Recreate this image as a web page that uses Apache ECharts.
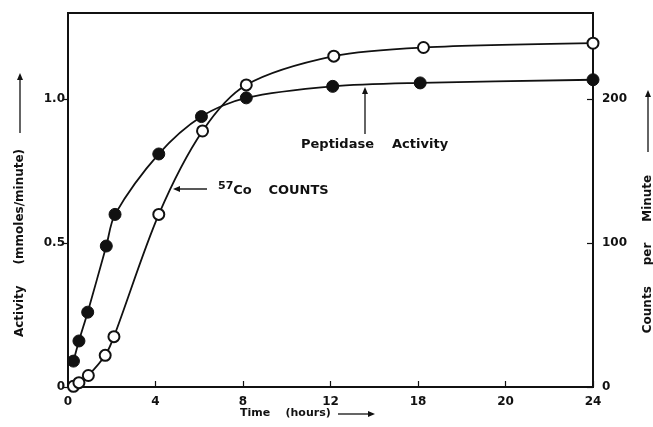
<!DOCTYPE html>
<html>
<head>
<meta charset="utf-8">
<script src="https://cdn.jsdelivr.net/npm/echarts@6/dist/echarts.min.js"></script>
<style>
  html, body { margin: 0; padding: 0; background: #fff; }
  #chart { width: 653px; height: 427px; }
</style>
</head>
<body>
<div id="chart"></div>
<script>
// time points (hours)
const activityTime = [0.25, 0.5, 0.9, 1.75, 2.15, 4.15, 6.1, 8.15, 12.1, 16.1, 24];
const activityValues = [0.09, 0.16, 0.26, 0.49, 0.60, 0.81, 0.94, 1.005, 1.045, 1.057, 1.068];

const countsTime = [0.25, 0.5, 0.93, 1.7, 2.1, 4.15, 6.15, 8.15, 12.15, 16.25, 24];
const countsValues = [0.5, 3, 8, 22, 35, 120, 178, 210, 230, 236, 239];

// tick labels as printed (the 16-hour tick is printed "18")
const xTickLabels = ['0', '4', '8', '12', '18', '20', '24'];
const leftTicks = [0, 0.5, 1];
const leftTickLabels = ['0', '0.5', '1.0'];
const rightTicks = [0, 100, 200];
const rightTickLabels = ['0', '100', '200'];

const FONT = 'DejaVu Sans';
const INK = '#111';

const chart = echarts.init(document.getElementById('chart'), null, { renderer: 'canvas' });

const arrowHead = (x, y, dir) => {
  // small filled triangle, dir: 'left' | 'up' | 'right'
  let pts;
  if (dir === 'left') pts = [[x, y], [x + 7, y - 3], [x + 7, y + 3]];
  else if (dir === 'up') pts = [[x, y], [x - 3, y + 7], [x + 3, y + 7]];
  else pts = [[x, y], [x - 7, y - 3], [x - 7, y + 3]];
  return { type: 'polygon', shape: { points: pts }, style: { fill: INK } };
};

const labelStyle = { color: INK, fontFamily: FONT, fontSize: 12, fontWeight: 'bold' };

const option = {
  backgroundColor: '#fff',
  animation: false,
  grid: {
    left: 68, right: 60, top: 13, bottom: 40,
    show: true, borderColor: INK, borderWidth: 2, backgroundColor: 'transparent'
  },
  xAxis: {
    type: 'value', min: 0, max: 24, interval: 4,
    axisLine: { lineStyle: { color: INK, width: 2 } },
    axisTick: { inside: true, length: 6, lineStyle: { color: INK, width: 1.2 } },
    splitLine: { show: false },
    axisLabel: Object.assign({ margin: 9, formatter: v => xTickLabels[Math.round(v / 4)] }, labelStyle)
  },
  yAxis: [
    {
      type: 'value', min: 0, max: 1.3,
      axisLine: { show: true, lineStyle: { color: INK, width: 2 } },
      axisTick: { show: true, length: 5, customValues: leftTicks, lineStyle: { color: INK, width: 1.2 } },
      splitLine: { show: false },
      axisLabel: Object.assign({
        margin: 3, customValues: leftTicks,
        formatter: v => leftTickLabels[leftTicks.indexOf(v)]
      }, labelStyle)
    },
    {
      type: 'value', min: 0, max: 260, position: 'right',
      axisLine: { show: true, lineStyle: { color: INK, width: 2 } },
      axisTick: { show: true, inside: true, length: 6, customValues: rightTicks, lineStyle: { color: INK, width: 1.2 } },
      splitLine: { show: false },
      axisLabel: Object.assign({
        margin: 9, customValues: rightTicks,
        formatter: v => rightTickLabels[rightTicks.indexOf(v)]
      }, labelStyle)
    }
  ],
  series: [
    {
      name: 'Peptidase Activity', type: 'line', yAxisIndex: 0,
      data: activityTime.map((t, i) => [t, activityValues[i]]),
      smooth: 0.3, symbol: 'circle', symbolSize: 12,
      lineStyle: { color: INK, width: 1.8 },
      itemStyle: { color: INK, borderColor: INK, borderWidth: 1 },
      z: 3
    },
    {
      name: '57Co counts', type: 'line', yAxisIndex: 1,
      data: countsTime.map((t, i) => [t, countsValues[i]]),
      smooth: 0.3, symbol: 'circle', symbolSize: 11,
      lineStyle: { color: INK, width: 1.8 },
      itemStyle: { color: '#fff', borderColor: INK, borderWidth: 2 },
      z: 4
    }
  ],
  graphic: [
    // left axis title
    {
      type: 'text', x: 20, y: 243, rotation: Math.PI / 2,
      style: {
        text: 'Activity     (mmoles/minute)', fill: INK,
        font: 'bold 12px "DejaVu Sans"', align: 'center', verticalAlign: 'middle'
      }
    },
    { type: 'line', shape: { x1: 20, y1: 80, x2: 20, y2: 133 }, style: { stroke: INK, lineWidth: 1.3 } },
    arrowHead(20, 73, 'up'),
    // right axis title
    {
      type: 'text', x: 648, y: 254, rotation: Math.PI / 2,
      style: {
        text: 'Counts     per     Minute', fill: INK,
        font: 'bold 12px "DejaVu Sans"', align: 'center', verticalAlign: 'middle'
      }
    },
    { type: 'line', shape: { x1: 648, y1: 97, x2: 648, y2: 152 }, style: { stroke: INK, lineWidth: 1.3 } },
    arrowHead(648, 90, 'up'),
    // x axis title
    {
      type: 'text', x: 240, y: 413,
      style: {
        text: 'Time    (hours)', fill: INK,
        font: 'bold 11px "DejaVu Sans"', align: 'left', verticalAlign: 'middle'
      }
    },
    { type: 'line', shape: { x1: 338, y1: 414, x2: 368, y2: 414 }, style: { stroke: INK, lineWidth: 1.3 } },
    arrowHead(375, 414, 'right'),
    // 57Co COUNTS annotation
    {
      type: 'text', x: 218, y: 191,
      style: {
        text: '{sup|57}{el|Co}     {el|COUNTS}', fill: INK,
        verticalAlign: 'middle', align: 'left',
        rich: {
          sup: { font: 'bold 11px "DejaVu Sans"', fill: INK, padding: [0, 0, 9, 0] },
          el: { font: 'bold 13px "DejaVu Sans"', fill: INK }
        }
      }
    },
    { type: 'line', shape: { x1: 180, y1: 189, x2: 207, y2: 189 }, style: { stroke: INK, lineWidth: 1.4 } },
    arrowHead(173, 189, 'left'),
    // Peptidase Activity annotation
    {
      type: 'text', x: 301, y: 145,
      style: {
        text: 'Peptidase    Activity', fill: INK,
        font: 'bold 13px "DejaVu Sans"', align: 'left', verticalAlign: 'middle'
      }
    },
    { type: 'line', shape: { x1: 365, y1: 94, x2: 365, y2: 134 }, style: { stroke: INK, lineWidth: 1.3 } },
    arrowHead(365, 87, 'up')
  ]
};

chart.setOption(option);
</script>
</body>
</html>
